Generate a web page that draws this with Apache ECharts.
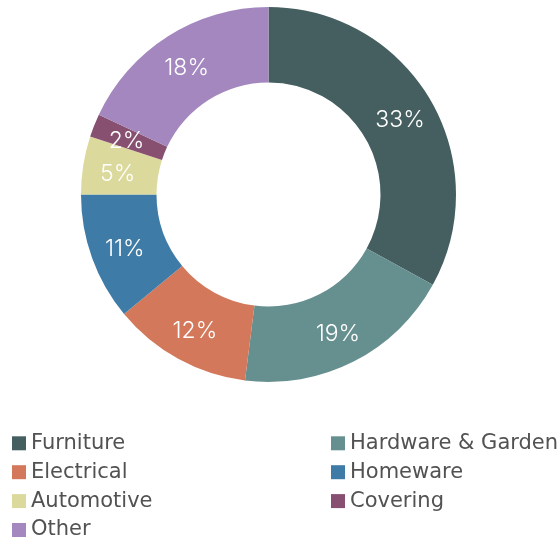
<!DOCTYPE html>
<html>
<head>
<meta charset="utf-8">
<script src="https://cdn.jsdelivr.net/npm/echarts@6/dist/echarts.min.js"></script>
<style>
  html, body { margin: 0; padding: 0; background: #fff; }
  #chart { width: 559px; height: 543px; }
</style>
</head>
<body>
<div id="chart"></div>
<script>
// Share of sales by category (percent)
const categories = ['Furniture', 'Hardware & Garden', 'Electrical', 'Homeware', 'Automotive', 'Covering', 'Other'];
const shares = [33, 19, 12, 11, 5, 2, 18];
const colors = ['#455f61', '#66908f', '#d3785a', '#3e7ba6', '#dcd99d', '#874f70', '#a387be'];

// Legend split into two columns
const legendLeft = ['Furniture', 'Electrical', 'Automotive', 'Other'];
const legendRight = ['Hardware & Garden', 'Homeware', 'Covering'];

const legendBase = {
  orient: 'vertical',
  top: 432.8,
  height: 200,
  padding: 0,
  itemWidth: 14,
  itemHeight: 14,
  itemGap: 7.9,
  icon: 'rect',
  textStyle: { fontFamily: '"DejaVu Sans", sans-serif', fontSize: 21, color: '#525252', lineHeight: 21 }
};

const chart = echarts.init(document.getElementById('chart'), null, { renderer: 'canvas' });
chart.setOption({
  animation: false,
  color: colors,
  legend: [
    Object.assign({}, legendBase, { left: 12, data: legendLeft }),
    Object.assign({}, legendBase, { left: 331, data: legendRight })
  ],
  series: [{
    type: 'pie',
    center: [268.5, 194.5],
    radius: [112, 187.5],
    startAngle: 90,
    clockwise: true,
    avoidLabelOverlap: false,
    label: {
      show: true,
      position: 'inside',
      formatter: '{c}%',
      color: '#fff',
      fontFamily: 'Inter, Roboto, sans-serif',
      fontSize: 23,
      fontWeight: 300,
      offset: [0, 3]
    },
    labelLine: { show: false },
    emphasis: { disabled: true },
    data: categories.map((name, i) => ({ name, value: shares[i] }))
  }]
});
</script>
</body>
</html>
